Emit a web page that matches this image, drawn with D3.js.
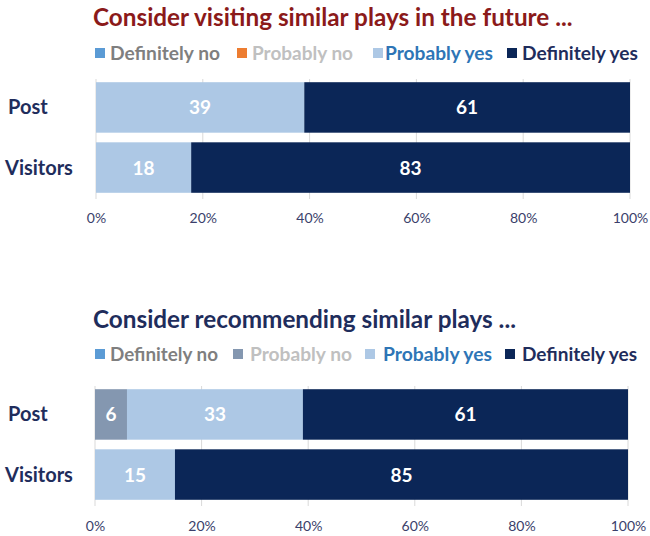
<!DOCTYPE html>
<html><head><meta charset="utf-8">
<script src="https://cdn.jsdelivr.net/npm/d3@7"></script>
<style>body{margin:0;background:#fff}svg{display:block;font-family:Lato,"Open Sans",sans-serif}</style>
</head><body><svg id="c" width="650" height="536"></svg>
<script>
const categories = ["Post", "Visitors"];
const seriesNames = ["Definitely no", "Probably no", "Probably yes", "Definitely yes"];
const ticks = [0, 0.2, 0.4, 0.6, 0.8, 1.0];
const visitTitle = "Consider visiting similar plays in the future ...";
const visitPost = [0, 0, 39, 61];
const visitVisitors = [0, 0, 18, 83];
const recTitle = "Consider recommending similar plays ...";
const recPost = [0, 6, 33, 61];
const recVisitors = [0, 0, 15, 85];

const legendText = ["#7f7f7f", "#c0c0c0", "#2e75b6", "#1f2d5c"];
const colors1 = ["#5b9bd5", "#ed7d31", "#adc8e5", "#0b2657"];
const colors2 = ["#5b9bd5", "#8497b0", "#adc8e5", "#0b2657"];

const svg = d3.select("#c");

function panel(cfg) {
  const g = svg.append("g");
  g.append("text").attr("x", cfg.titleX).attr("y", cfg.titleY)
    .attr("fill", cfg.titleColor).attr("font-size", 24.3).attr("font-weight", 700)
    .text(cfg.title);
  // legend
  seriesNames.forEach((s, i) => {
    g.append("rect").attr("x", cfg.sqX[i]).attr("y", cfg.legendY - 5).attr("width", 10).attr("height", 10)
      .attr("fill", cfg.colors[i]);
    g.append("text").attr("x", cfg.txX[i]).attr("y", cfg.legendY + 7)
      .attr("fill", legendText[i]).attr("font-size", 19).attr("font-weight", 700)
      .attr("textLength", cfg.txW[i]).attr("lengthAdjust", "spacingAndGlyphs").text(s);
  });
  const x = d3.scaleLinear().domain([0, 1]).range([cfg.x0, cfg.x1]);
  const y = d3.scaleBand().domain(categories).range([cfg.y0, cfg.y1]).paddingInner(0.16).paddingOuter(0.02);
  // gridlines
  g.append("g").selectAll("line").data(ticks).join("line")
    .attr("x1", d => x(d)).attr("x2", d => x(d))
    .attr("y1", cfg.y0 - 2).attr("y2", cfg.y1 + 5)
    .attr("stroke", "#d9d9d9").attr("stroke-width", 1);
  const rows = categories.map((c, i) => ({ c, v: cfg.values[i] }));
  rows.forEach(r => {
    const tot = d3.sum(r.v);
    let acc = 0;
    r.v.forEach((v, i) => {
      if (v <= 0) return;
      const a = acc / tot, b = (acc + v) / tot;
      acc += v;
      g.append("rect").attr("x", x(a)).attr("width", x(b) - x(a))
        .attr("y", y(r.c)).attr("height", y.bandwidth()).attr("fill", cfg.colors[i]);
      g.append("text").attr("x", (x(a) + x(b)) / 2).attr("y", y(r.c) + y.bandwidth() / 2 + 7)
        .attr("text-anchor", "middle").attr("fill", "#fff").attr("font-size", 19).attr("font-weight", 700)
        .text(v);
    });
  });
  // category labels
  g.append("g").selectAll("text").data(categories).join("text")
    .attr("x", (d, i) => i === 0 ? 8 : 5).attr("y", d => y(d) + y.bandwidth() / 2 + 7)
    .attr("fill", "#1f2d5c").attr("font-size", 20).attr("font-weight", 700).text(d => d);
  // x axis
  const ax = g.append("g").attr("transform", `translate(0,${cfg.axisY})`)
    .call(d3.axisBottom(x).tickValues(ticks).tickFormat(d3.format(".0%")).tickSize(0));
  ax.select(".domain").remove();
  ax.selectAll("text").attr("fill", "#3b3f6b").attr("font-size", 14).attr("font-family", "Lato,sans-serif");
}

panel({ title: visitTitle, titleX: 93, titleY: 26, titleColor: "#8b1a1a", legendY: 53,
  sqX: [95, 237, 373, 507], txX: [110, 252, 385, 522], txW: [110, 101, 108, 116],
  colors: colors1, x0: 96, x1: 630, y0: 81, y1: 194, axisY: 210,
  values: [visitPost, visitVisitors] });
panel({ title: recTitle, titleX: 93, titleY: 328, titleColor: "#1f2d5c", legendY: 354,
  sqX: [95, 233, 365, 505], txX: [110, 250, 383, 522], txW: [108, 102, 109, 115],
  colors: colors2, x0: 95, x1: 628, y0: 388, y1: 501, axisY: 518,
  values: [recPost, recVisitors] });
</script></body></html>
